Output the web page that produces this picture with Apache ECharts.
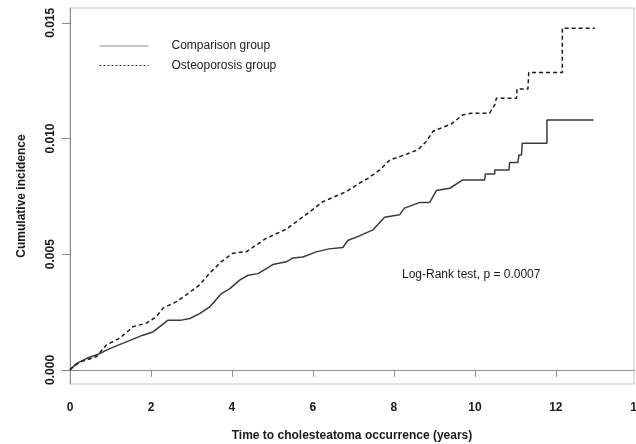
<!DOCTYPE html>
<html>
<head>
<meta charset="utf-8">
<style>html,body{margin:0;padding:0;background:#fff;}#c{width:636px;height:444px;}</style>
<script src="https://cdn.jsdelivr.net/npm/echarts@6/dist/echarts.min.js"></script>
</head>
<body>
<div id="c"></div>
<script>
const seriesNames = ['Comparison group', 'Osteoporosis group'];
const compTime = [0, 0.03, 0.16, 0.40, 0.73, 0.98, 1.39, 1.80, 2.05, 2.21, 2.42, 2.75, 2.96, 3.20, 3.45, 3.74, 3.95, 4.19, 4.40, 4.64, 4.85, 5.01, 5.34, 5.51, 5.75, 6.08, 6.40, 6.74, 6.86, 7.15, 7.48, 7.77, 8.14, 8.26, 8.63, 8.88, 9.05, 9.38, 9.70, 10.24, 10.26, 10.49, 10.49, 10.84, 10.86, 11.06, 11.09, 11.15, 11.17, 11.78, 11.78, 12.93];
const compValue = [0, 0.00006, 0.00027, 0.00049, 0.00070, 0.00092, 0.00121, 0.00150, 0.00164, 0.00186, 0.00215, 0.00215, 0.00222, 0.00243, 0.00272, 0.00330, 0.00351, 0.00388, 0.00409, 0.00416, 0.00438, 0.00455, 0.00467, 0.00484, 0.00488, 0.00510, 0.00523, 0.00529, 0.00559, 0.00579, 0.00605, 0.00660, 0.00670, 0.00699, 0.00723, 0.00723, 0.00775, 0.00785, 0.00821, 0.00821, 0.00847, 0.00847, 0.00864, 0.00864, 0.00896, 0.00896, 0.00929, 0.00929, 0.00980, 0.00980, 0.01080, 0.01080];
const osteoTime = [0, 0.07, 0.28, 0.65, 0.90, 1.23, 1.56, 1.89, 2.13, 2.30, 2.63, 2.87, 3.20, 3.45, 3.74, 4.02, 4.36, 4.85, 5.34, 5.76, 6.25, 6.83, 7.15, 7.36, 7.65, 7.90, 8.26, 8.59, 8.80, 8.96, 9.09, 9.42, 9.70, 9.91, 10.36, 10.49, 10.53, 11.03, 11.04, 11.31, 11.33, 12.16, 12.16, 12.96];
const osteoValue = [0, 0.00014, 0.00036, 0.00057, 0.00108, 0.00137, 0.00187, 0.00202, 0.00230, 0.00267, 0.00295, 0.00324, 0.00367, 0.00418, 0.00468, 0.00504, 0.00511, 0.00569, 0.00608, 0.00662, 0.00727, 0.00771, 0.00807, 0.00828, 0.00864, 0.00907, 0.00929, 0.00951, 0.00987, 0.01030, 0.01040, 0.01063, 0.01102, 0.01109, 0.01109, 0.01145, 0.01174, 0.01174, 0.01214, 0.01214, 0.01285, 0.01285, 0.01477, 0.01477];
const xTicks = [0, 2, 4, 6, 8, 10, 12, 14];
const yTicks = [0, 0.005, 0.010, 0.015];
const xTitle = 'Time to cholesteatoma occurrence (years)';
const yTitle = 'Cumulative incidence';
const annotation = 'Log-Rank test, p = 0.0007';

const FONT = '"Liberation Sans", Arial, sans-serif';
const zip = (a, b) => a.map((t, i) => [t, b[i]]);
const XMAX = 13.93;

const chart = echarts.init(document.getElementById('c'), null, {renderer: 'canvas'});
chart.setOption({
  animation: false,
  backgroundColor: '#fff',
  grid: {left: 70, right: 2, top: 8, bottom: 60, containLabel: false, outerBoundsMode: 'none',
         show: true, borderColor: '#c4c4c4', borderWidth: 1, backgroundColor: 'transparent'},
  xAxis: {
    type: 'value', min: 0, max: XMAX, interval: 2,
    name: xTitle, nameLocation: 'middle', nameGap: 46,
    nameTextStyle: {fontFamily: FONT, fontSize: 12, fontWeight: 'bold', color: '#1a1a1a'},
    axisLine: {show: true, lineStyle: {color: '#8c8c8c', width: 1}},
    axisTick: {show: true, length: 7, lineStyle: {color: '#8c8c8c'}, customValues: xTicks.filter(v => v <= XMAX)},
    axisLabel: {fontFamily: FONT, fontSize: 12, fontWeight: 'bold', color: '#1a1a1a', margin: 18, customValues: xTicks.filter(v => v <= XMAX)},
    splitLine: {show: false}
  },
  yAxis: {
    type: 'value', min: -0.00061, max: 0.01564,
    name: yTitle, nameLocation: 'middle', nameGap: 42,
    nameTextStyle: {fontFamily: FONT, fontSize: 12, fontWeight: 'bold', color: '#1a1a1a'},
    axisLine: {show: true, lineStyle: {color: '#8c8c8c', width: 1}},
    axisTick: {show: true, length: 8, lineStyle: {color: '#8c8c8c'}, customValues: yTicks},
    axisLabel: {fontFamily: FONT, fontSize: 12, fontWeight: 'bold', color: '#1a1a1a', rotate: 90, margin: 13, customValues: yTicks, formatter: v => Number(v).toFixed(3)},
    splitLine: {show: false}
  },
  legend: {
    orient: 'vertical', left: 94, top: 35, itemWidth: 49, itemHeight: 14, itemGap: 7.5,
    itemStyle: {opacity: 0},
    textStyle: {fontFamily: FONT, fontSize: 12, color: '#1a1a1a', padding: [0, 0, 0, 18]},
    data: [
      {name: seriesNames[0], lineStyle: {color: '#8a8a8a', width: 1, type: 'solid'}},
      {name: seriesNames[1], lineStyle: {color: '#333', width: 1, type: [2, 2]}}
    ]
  },
  graphic: [
    {type: 'text', left: 402, top: 269, style: {text: annotation, font: '12px ' + FONT, fill: '#1a1a1a'}},
    {type: 'text', x: 637, y: 408, style: {text: String(xTicks[xTicks.length - 1]), font: 'bold 12px ' + FONT, fill: '#1a1a1a', align: 'center', verticalAlign: 'middle'}}
  ],
  series: [
    {name: seriesNames[0], type: 'line', data: zip(compTime, compValue), symbol: 'none', showSymbol: false,
     lineStyle: {color: '#3a3a3a', width: 1.5, type: 'solid'}, itemStyle: {color: '#3a3a3a'}},
    {name: seriesNames[1], type: 'line', data: zip(osteoTime, osteoValue), symbol: 'none', showSymbol: false,
     lineStyle: {color: '#1a1a1a', width: 1.5, type: [4, 3]}, itemStyle: {color: '#1a1a1a'}}
  ]
});
</script>
</body>
</html>
